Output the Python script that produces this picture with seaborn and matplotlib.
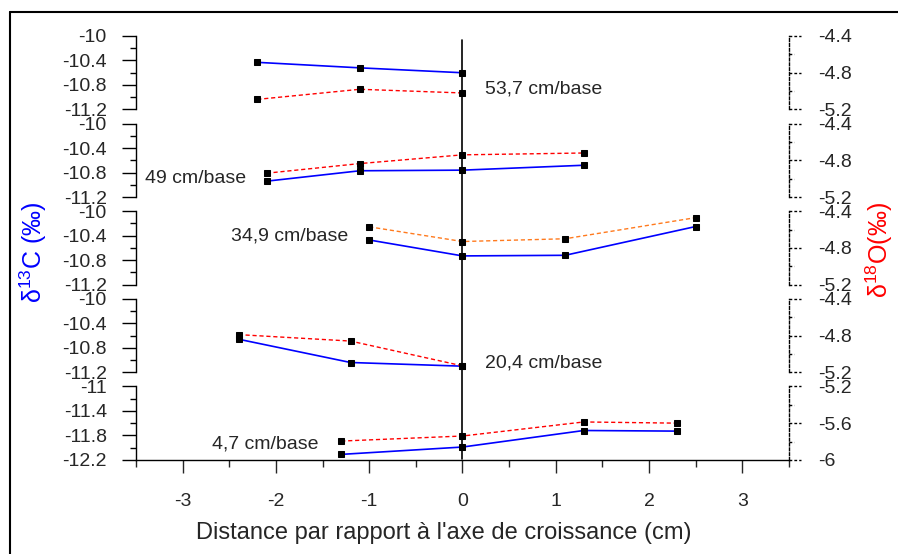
import numpy as np
import pandas as pd
import matplotlib
matplotlib.use('Agg')
import matplotlib.pyplot as plt
import matplotlib.transforms as mtransforms
from matplotlib.lines import Line2D
from matplotlib.ticker import FuncFormatter
import seaborn as sns

# one panel per sampling height, top to bottom
heights = ['53,7 cm/base', '49 cm/base', '34,9 cm/base', '20,4 cm/base', '4,7 cm/base']

# distance to the growth axis (cm)
x_537 = [-2.2, -1.1, 0.0]
x_49 = [-2.1, -1.1, 0.0, 1.3]
x_349 = [-1.0, 0.0, 1.1, 2.5]
x_204 = [-2.4, -1.2, 0.0]
x_47 = [-1.3, 0.0, 1.3, 2.3]

# d13C (left axis)
c13_537 = [-10.43, -10.52, -10.60]
c13_49 = [-10.94, -10.77, -10.76, -10.68]
c13_349 = [-10.47, -10.73, -10.72, -10.25]
c13_204 = [-10.66, -11.04, -11.10]
c13_47 = [-12.11, -11.99, -11.72, -11.73]

# d18O (right axis)
o18_537 = [-5.09, -4.98, -5.02]
o18_49 = [-4.94, -4.835, -4.74, -4.72]
o18_349 = [-4.57, -4.73, -4.70, -4.47]
o18_204 = [-4.79, -4.86, -5.13]
o18_47 = [-5.795, -5.74, -5.587, -5.60]

# axis ranges
c13_lims = [(-11.2, -10), (-11.2, -10), (-11.2, -10), (-11.2, -10), (-12.2, -11)]
o18_lims = [(-5.2, -4.4), (-5.2, -4.4), (-5.2, -4.4), (-5.2, -4.4), (-6.0, -5.2)]

# where the height labels sit (x, left-axis y)
label_pos = [(0.24, -10.86), (-3.40, -10.89), (-2.48, -10.41), (0.24, -11.04), (-2.68, -11.94)]

xs = [x_537, x_49, x_349, x_204, x_47]
c13s = [c13_537, c13_49, c13_349, c13_204, c13_47]
o18s = [o18_537, o18_49, o18_349, o18_204, o18_47]
o18_colors = ['#ff0000', '#ff0000', '#ff7a1e', '#ff0000', '#ff0000']

sns.set_style('ticks')
plt.rcParams['font.family'] = ['Liberation Sans', 'DejaVu Sans']
plt.rcParams['mathtext.fontset'] = 'custom'
plt.rcParams['mathtext.rm'] = 'Liberation Sans'
plt.rcParams['mathtext.it'] = 'Liberation Sans:italic'
plt.rcParams['mathtext.default'] = 'rm'

W, H = 898, 554
fig = plt.figure(figsize=(W / 100, H / 100), dpi=100)

fmt = FuncFormatter(lambda v, p: f'{v:g}')
left_px, right_px = 136, 789
FS = 14

axes = []
for i in range(5):
    top = 36 + i * 87.6
    h = 73.5
    ax = fig.add_axes([left_px / W, 1 - (top + h) / H, (right_px - left_px) / W, h / H])
    ax.patch.set_alpha(0)
    df = pd.DataFrame({'x': xs[i], 'c13': c13s[i], 'o18': o18s[i]})

    sns.lineplot(data=df, x='x', y='c13', ax=ax, color='#0000ff', lw=1.2,
                 marker='s', ms=4.5, mfc='black', mec='black')
    ax.set_xlim(-3.5, 3.5)
    lo, hi = c13_lims[i]
    ax.set_ylim(lo, hi)
    ax.set_yticks(np.linspace(lo, hi, 4))
    ax.set_yticks(np.linspace(lo, hi, 7), minor=True)
    ax.yaxis.set_major_formatter(fmt)
    ax.tick_params(axis='y', which='major', direction='out', length=10, width=1,
                   pad=11, labelsize=FS, color='black')
    ax.tick_params(axis='y', which='minor', direction='out', length=4.5, width=1, color='black')
    ax.set_xlabel('')
    ax.set_ylabel('')
    for s in ['top', 'right']:
        ax.spines[s].set_visible(False)
    ax.spines['left'].set_linewidth(1)
    ax.spines['left'].set_color('black')

    ax2 = ax.twinx()
    sns.lineplot(data=df, x='x', y='o18', ax=ax2, color=o18_colors[i], lw=1,
                 linestyle=(0, (3, 2)), marker='s', ms=4.5, mfc='black', mec='black')
    lo2, hi2 = o18_lims[i]
    ax2.set_ylim(lo2, hi2)
    ax2.set_yticks(np.linspace(lo2, hi2, 3))
    ax2.yaxis.set_major_formatter(fmt)
    ax2.tick_params(axis='y', length=0, pad=21, labelsize=FS)
    ax2.set_ylabel('')
    for s in ['top', 'left', 'bottom']:
        ax2.spines[s].set_visible(False)
    ax2.spines['right'].set_linestyle((0, (2, 1.5)))
    ax2.spines['right'].set_linewidth(1)
    ax2.spines['right'].set_color('black')
    # dashed tick marks on the right axis
    tr = mtransforms.blended_transform_factory(ax2.transAxes, ax2.transData)
    for k, v in enumerate(np.linspace(lo2, hi2, 5)):
        ln = 0.0185 if k % 2 == 0 else 0.007
        ax2.plot([1, 1 + ln], [v, v], transform=tr, color='black', lw=1,
                 ls=(0, (2, 1.5)), clip_on=False)

    if i < 4:
        ax.spines['bottom'].set_visible(False)
        ax.tick_params(axis='x', bottom=False, labelbottom=False)
    else:
        ax.spines['bottom'].set_linewidth(1)
        ax.spines['bottom'].set_color('black')
        ax.set_xticks(np.arange(-3, 4, 1))
        ax.set_xticks(np.arange(-3.5, 3.6, 0.5), minor=True)
        ax.xaxis.set_major_formatter(fmt)
        ax.tick_params(axis='x', which='major', direction='out', length=9.5, width=1,
                       pad=14, labelsize=FS)
        ax.tick_params(axis='x', which='minor', direction='out', length=5, width=1)
        ax.set_xlabel("Distance par rapport à l'axe de croissance (cm)", fontsize=17)
        ax.xaxis.set_label_coords(0.472, -0.84)

    lx, ly = label_pos[i]
    ax.text(lx, ly, heights[i], fontsize=FS, ha='left', va='center')
    axes.append(ax)

# growth axis line through all panels
trv = mtransforms.blended_transform_factory(axes[-1].transData, fig.transFigure)
fig.add_artist(Line2D([0, 0], [1 - 40 / H, 1 - 459 / H], transform=trv, color='black', lw=1.2))

# axis titles
fig.text(33 / W, 1 - 252 / H, r'δ$^{13}$C (‰)', rotation=90, ha='center', va='center',
         color='#0000ff', fontsize=18)
fig.text(879 / W, 1 - 250 / H, r'δ$^{18}$O(‰)', rotation=90, ha='center', va='center',
         color='#ff0000', fontsize=18)

# outer frame
fig.add_artist(Line2D([10 / W, 1.01], [1 - 12 / H, 1 - 12 / H], transform=fig.transFigure,
                      color='black', lw=1.5))
fig.add_artist(Line2D([10 / W, 10 / W], [1 - 12 / H, -0.01], transform=fig.transFigure,
                      color='black', lw=1.5))

fig.savefig('out.png', dpi=100)
